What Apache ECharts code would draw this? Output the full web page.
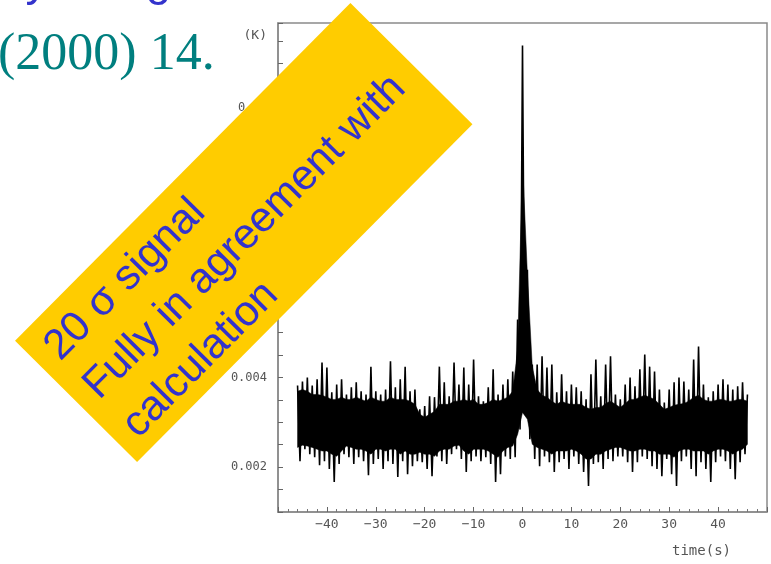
<!DOCTYPE html>
<html>
<head>
<meta charset="utf-8">
<script src="https://cdn.jsdelivr.net/npm/echarts@6/dist/echarts.min.js"></script>
<style>html,body{margin:0;padding:0;background:#fff;}#c{width:771px;height:564px;}</style>
</head>
<body>
<div id="c"></div>
<script>
// Spike tips of the bolometer trace (K): upper tips at whole seconds from -46 s to 46 s
const upperTimeStartS = -46;
const upperK = [
  0.00382,0.00391,0.00400,0.00382,0.00396,0.00433,0.00422,0.00367,0.00384,0.00396,
  0.00362,0.00378,0.00389,0.00369,0.00362,0.00424,0.00369,0.00362,0.00373,0.00436,
  0.00378,0.00396,0.00424,0.00369,0.00373,0.00329,0.00336,0.00358,0.00356,0.00424,
  0.00389,0.00358,0.00433,0.00384,0.00422,0.00384,0.00440,0.00358,0.00347,0.00378,
  0.00418,0.00362,0.00384,0.00396,0.00413,0.00529,0.01140,0.00640,0.00429,0.00429,
  0.00447,0.00422,0.00429,0.00367,0.00407,0.00369,0.00384,0.00378,0.00369,0.00351,
  0.00407,0.00440,0.00358,0.00429,0.00447,0.00362,0.00351,0.00384,0.00400,0.00380,
  0.00418,0.00451,0.00424,0.00413,0.00373,0.00344,0.00373,0.00389,0.00400,0.00391,
  0.00373,0.00440,0.00469,0.00384,0.00356,0.00369,0.00384,0.00396,0.00384,0.00373,
  0.00380,0.00389,0.00362
];
// Lower tips of the trace (K), at half seconds from -45.5 s to 45.5 s
const lowerTimeStartS = -45.5;
const lowerK = [
  0.00213,0.00240,0.00229,0.00222,0.00204,0.00213,0.00196,0.00167,0.00207,0.00229,
  0.00222,0.00207,0.00222,0.00213,0.00182,0.00207,0.00218,0.00196,0.00213,0.00207,
  0.00178,0.00213,0.00184,0.00202,0.00213,0.00211,0.00196,0.00180,0.00224,0.00213,
  0.00207,0.00229,0.00240,0.00218,0.00189,0.00213,0.00224,0.00213,0.00222,0.00207,
  0.00167,0.00184,0.00224,0.00218,0.00222,0.00284,0.00324,0.00262,0.00218,0.00202,
  0.00224,0.00211,0.00189,0.00211,0.00218,0.00196,0.00224,0.00207,0.00189,0.00158,
  0.00207,0.00211,0.00196,0.00218,0.00213,0.00224,0.00224,0.00211,0.00189,0.00211,
  0.00224,0.00218,0.00202,0.00196,0.00180,0.00218,0.00184,0.00158,0.00213,0.00224,
  0.00196,0.00180,0.00211,0.00196,0.00167,0.00211,0.00224,0.00213,0.00196,0.00173,
  0.00211,0.00229
];
// Solid core of the trace (K): top and bottom edges at whole seconds from -46 s to 46 s
const coreTimeStartS = -46;
const coreTopK = [
  0.00369,0.00373,0.00369,0.00362,0.00362,0.00360,0.00356,0.00351,0.00351,0.00356,
  0.00351,0.00351,0.00356,0.00351,0.00347,0.00356,0.00351,0.00347,0.00347,0.00356,
  0.00351,0.00351,0.00351,0.00347,0.00340,0.00318,0.00311,0.00318,0.00324,0.00340,
  0.00340,0.00340,0.00347,0.00347,0.00351,0.00347,0.00351,0.00340,0.00340,0.00344,
  0.00351,0.00347,0.00351,0.00356,0.00369,0.00462,0.00880,0.00630,0.00424,0.00373,
  0.00360,0.00356,0.00347,0.00340,0.00347,0.00342,0.00340,0.00340,0.00340,0.00333,
  0.00329,0.00333,0.00333,0.00342,0.00347,0.00340,0.00333,0.00342,0.00351,0.00351,
  0.00356,0.00360,0.00356,0.00351,0.00340,0.00329,0.00333,0.00338,0.00340,0.00342,
  0.00347,0.00356,0.00360,0.00351,0.00347,0.00347,0.00351,0.00351,0.00347,0.00347,
  0.00351,0.00351,0.00347
];
const coreBottomK = [
  0.00244,0.00249,0.00247,0.00244,0.00240,0.00236,0.00236,0.00229,0.00224,0.00236,
  0.00247,0.00244,0.00240,0.00240,0.00236,0.00229,0.00240,0.00240,0.00236,0.00240,
  0.00240,0.00229,0.00236,0.00229,0.00229,0.00233,0.00229,0.00229,0.00224,0.00236,
  0.00240,0.00240,0.00247,0.00249,0.00236,0.00229,0.00240,0.00240,0.00240,0.00236,
  0.00229,0.00222,0.00236,0.00244,0.00247,0.00273,0.00322,0.00307,0.00251,0.00244,
  0.00240,0.00236,0.00229,0.00236,0.00236,0.00236,0.00240,0.00236,0.00229,0.00218,
  0.00218,0.00229,0.00229,0.00236,0.00240,0.00244,0.00244,0.00240,0.00236,0.00236,
  0.00240,0.00240,0.00236,0.00236,0.00229,0.00229,0.00229,0.00222,0.00236,0.00240,
  0.00240,0.00236,0.00236,0.00236,0.00229,0.00236,0.00240,0.00240,0.00236,0.00229,
  0.00236,0.00240,0.00251
];
// Axis ticks
const xTicksS = [-40, -30, -20, -10, 0, 10, 20, 30, 40];
const yLabelValuesK = [0.002, 0.004, 0.006, 0.008, 0.01];

// Interleave upper and lower tips into a single trace
const trace = [];
for (let i = 0; i < upperK.length; i++) {
  trace.push([upperTimeStartS + i, upperK[i]]);
  if (i < lowerK.length) trace.push([lowerTimeStartS + i, lowerK[i]]);
}

const chart = echarts.init(document.getElementById('c'), null, {renderer: 'canvas'});
const axisGray = '#8a8a8a';
const labelGray = '#555';
const mono = '"DejaVu Sans Mono", "Liberation Mono", monospace';

function renderCore(params, api) {
  const pts = [];
  for (let i = 0; i < coreTopK.length; i++) pts.push(api.coord([coreTimeStartS + i, coreTopK[i]]));
  for (let i = coreBottomK.length - 1; i >= 0; i--) pts.push(api.coord([coreTimeStartS + i, coreBottomK[i]]));
  return {type: 'polygon', shape: {points: pts}, style: {fill: '#000', stroke: '#000', lineWidth: 0.5}};
}

chart.setOption({
  backgroundColor: '#ffffff',
  animation: false,
  grid: {left: 278, top: 23, right: 4, bottom: 52, show: true, borderColor: axisGray, borderWidth: 1.5, backgroundColor: 'transparent'},
  xAxis: {
    type: 'value', min: -50, max: 50, interval: 10,
    axisLine: {show: true, onZero: false, lineStyle: {color: axisGray, width: 1.5}},
    axisTick: {show: true, inside: true, length: 5, lineStyle: {color: '#666', width: 1}},
    minorTick: {show: true, splitNumber: 5, length: 3, lineStyle: {color: '#777'}},
    splitLine: {show: false},
    axisLabel: {
      margin: 6, color: labelGray, fontFamily: mono, fontSize: 13,
      formatter: v => xTicksS.indexOf(v) >= 0 ? String(v).replace('-', '\u2212') : ''
    }
  },
  yAxis: {
    type: 'value', min: 0.001, max: 0.0119, interval: 0.0005,
    axisLine: {show: true, onZero: false, lineStyle: {color: axisGray, width: 1.5}},
    axisTick: {show: true, inside: true, length: 5, lineStyle: {color: '#666', width: 1}},
    splitLine: {show: false},
    axisLabel: {
      margin: 11, color: labelGray, fontFamily: mono, fontSize: 12,
      formatter: v => {
        for (const y of yLabelValuesK) { if (Math.abs(v - y) < 1e-9) return String(y); }
        return '';
      }
    }
  },
  series: [
    {type: 'custom', data: [[0, 0.003]], renderItem: renderCore, silent: true, z: 2},
    {type: 'line', data: trace, showSymbol: false, symbol: 'none',
     lineStyle: {color: '#000', width: 1.6}, z: 3, silent: true}
  ],
  graphic: [
    {type: 'text', x: 267, y: 36, z: 10, style: {text: '(K)', font: '13px ' + mono, fill: labelGray, align: 'right', textAlign: 'right', verticalAlign: 'middle', textVerticalAlign: 'middle'}},
    {type: 'text', x: 672, y: 551, z: 10, style: {text: 'time(s)', font: '14px ' + mono, fill: labelGray, align: 'left', textAlign: 'left', verticalAlign: 'middle', textVerticalAlign: 'middle'}},
    {type: 'text', x: -2, y: 55.5, z: 10, style: {text: '(2000) 14.', font: '52px "Liberation Serif", "Times New Roman", serif', fill: '#007F7F', align: 'left', textAlign: 'left', verticalAlign: 'middle', textVerticalAlign: 'middle'}},
    {type: 'text', x: 0, y: -17.9, z: 10, style: {text: 'by using', font: '46px "Liberation Sans", Arial, sans-serif', fill: '#3333CC', align: 'left', textAlign: 'left', verticalAlign: 'middle', textVerticalAlign: 'middle'}},
    {
      type: 'group', x: 243.75, y: 232.5, rotation: 0.789, z: 100,
      children: [
        {type: 'rect', z: 100, shape: {x: -238, y: -86, width: 476, height: 172}, style: {fill: '#FFCC00'}},
        {type: 'text', z: 101, style: {x: -221, y: -78.5, text: '20 \u03c3 signal\nFully in agreement with\ncalculation', font: '42.5px "Liberation Sans", Arial, sans-serif', fill: '#3333CC', lineHeight: 55, align: 'left', textAlign: 'left', verticalAlign: 'top', textVerticalAlign: 'top'}}
      ]
    }
  ]
});
</script>
</body>
</html>
